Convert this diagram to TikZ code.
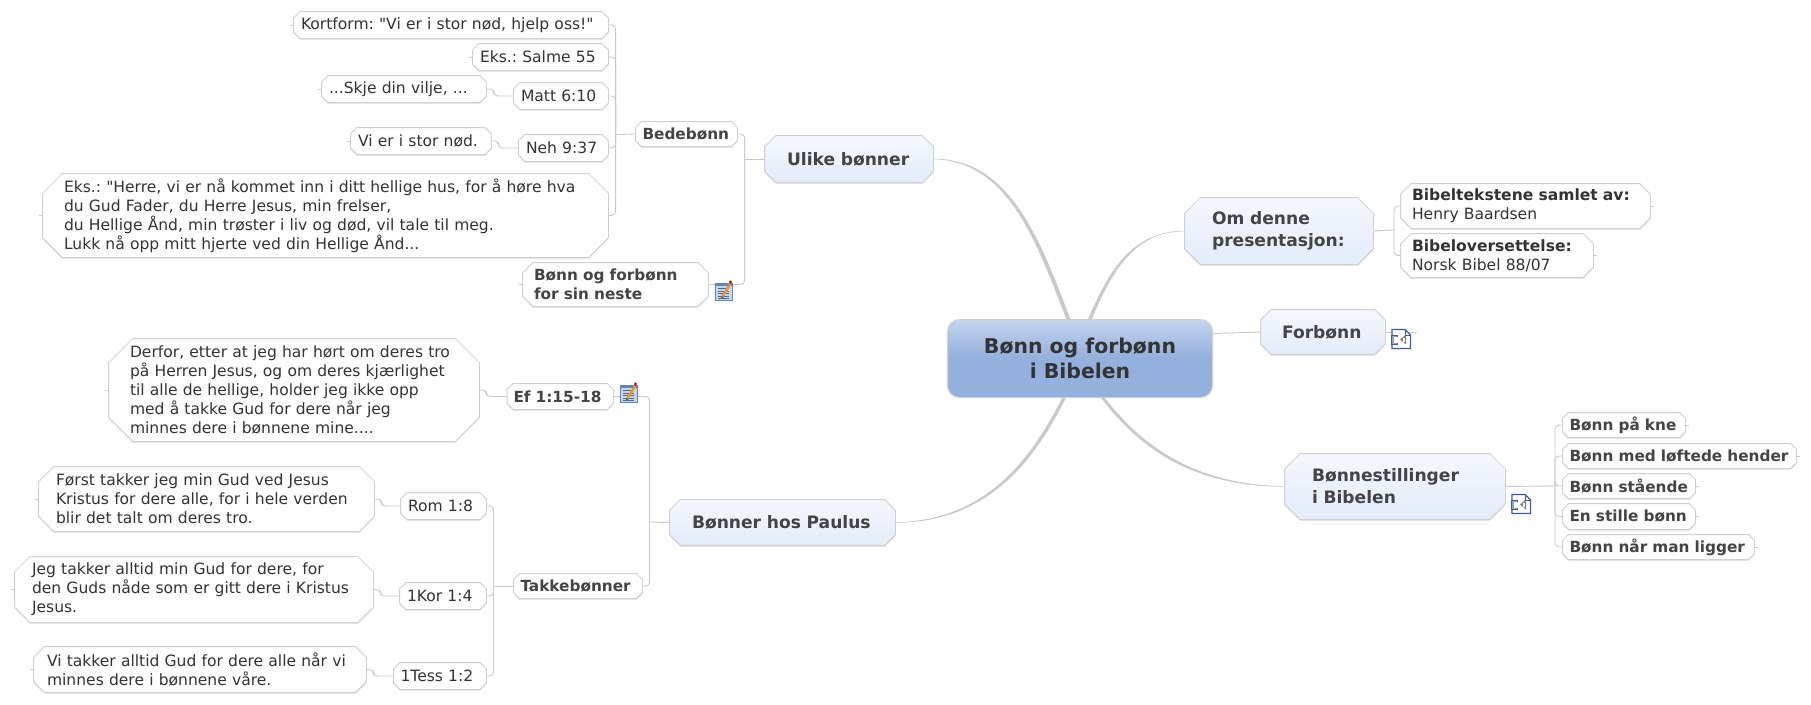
\documentclass[tikz,border=0pt]{standalone}
\usepackage{fontspec}
\setmainfont[Ligatures=TeXOff]{DejaVu Sans}
\usetikzlibrary{shadows,calc}
\makeatletter
\pgfdeclareshape{chamfbox}{
  \inheritsavedanchors[from=rectangle]
  \inheritanchorborder[from=rectangle]
  \inheritanchor[from=rectangle]{center}
  \inheritanchor[from=rectangle]{north}
  \inheritanchor[from=rectangle]{south}
  \inheritanchor[from=rectangle]{east}
  \inheritanchor[from=rectangle]{west}
  \inheritanchor[from=rectangle]{north east}
  \inheritanchor[from=rectangle]{north west}
  \inheritanchor[from=rectangle]{south east}
  \inheritanchor[from=rectangle]{south west}
  \inheritanchor[from=rectangle]{base}
  \inheritanchor[from=rectangle]{mid}
  \backgroundpath{
    \southwest \pgf@xa=\pgf@x \pgf@ya=\pgf@y
    \northeast \pgf@xb=\pgf@x \pgf@yb=\pgf@y
    \pgf@yc=\pgf@yb \advance\pgf@yc by -\pgf@ya
    \pgf@yc=0.235\pgf@yc
    \pgfpathmoveto{\pgfqpoint{\pgf@xa}{\dimexpr\pgf@ya+\pgf@yc}}
    \pgfpathlineto{\pgfqpoint{\pgf@xa}{\dimexpr\pgf@yb-\pgf@yc}}
    \pgfpathlineto{\pgfqpoint{\dimexpr\pgf@xa+\pgf@yc}{\pgf@yb}}
    \pgfpathlineto{\pgfqpoint{\dimexpr\pgf@xb-\pgf@yc}{\pgf@yb}}
    \pgfpathlineto{\pgfqpoint{\pgf@xb}{\dimexpr\pgf@yb-\pgf@yc}}
    \pgfpathlineto{\pgfqpoint{\pgf@xb}{\dimexpr\pgf@ya+\pgf@yc}}
    \pgfpathlineto{\pgfqpoint{\dimexpr\pgf@xb-\pgf@yc}{\pgf@ya}}
    \pgfpathlineto{\pgfqpoint{\dimexpr\pgf@xa+\pgf@yc}{\pgf@ya}}
    \pgfpathclose
  }
}
\makeatother
\definecolor{edge}{HTML}{C9C9C9}
\definecolor{boxline}{HTML}{CDD0D4}
\definecolor{txt}{HTML}{333333}
\definecolor{txtb}{HTML}{444444}
\definecolor{c1}{HTML}{94B1DD}
\definecolor{c2}{HTML}{96B2DD}
\definecolor{c3}{HTML}{C6D6EE}
\definecolor{e1}{HTML}{F4F7FD}
\definecolor{e2}{HTML}{E3ECFA}
\definecolor{notefill}{HTML}{C4D7F0}
\definecolor{noteline}{HTML}{5F85C4}
\definecolor{linkline}{HTML}{3F5AAB}
\definecolor{linkfill}{HTML}{8FA3CF}
\pgfdeclareverticalshading{centershade}{100bp}{%
  color(0bp)=(c1);color(50bp)=(c1);color(52bp)=(c2);color(75bp)=(c3);color(100bp)=(c3)}
\newcommand{\leaffont}{\frenchspacing\fontsize{15.55}{19}\selectfont}
\newcommand{\boldfont}{\frenchspacing\fontsize{15.3}{19}\selectfont\bfseries}
\newcommand{\mainfontx}{\frenchspacing\fontsize{17.1}{22}\selectfont\bfseries}
\newcommand{\bx}[8]{% style name x0 y0 x1 y1 pad text
  \pgfmathsetmacro{\xc}{(#3+#5)/2}\pgfmathsetmacro{\yc}{(#4+#6)/2}%
  \pgfmathsetmacro{\hb}{#6-#4}%
  \pgfmathsetmacro{\tw}{#5-#3-2*#7}%
  \node[#1, minimum height=\hb pt, text width=\tw pt, inner xsep=#7pt] (#2) at (\xc,\yc) {#8};}
\tikzset{
  x=1pt,y=-1pt,
  base/.style={shape=chamfbox, draw=boxline, line width=0.8pt, inner ysep=0pt, align=left,
     copy shadow={shadow xshift=0pt, shadow yshift=-1.2pt, draw=none, fill=black!16}},
  leaf/.style={base, fill=white, text=txt, font=\leaffont},
  bleaf/.style={base, fill=white, text=txtb, font=\boldfont},
  topic/.style={base, top color=e1, bottom color=e2, text=txtb, font=\mainfontx},
  conn/.style={draw=edge, line width=0.9pt, rounded corners=4pt},
  curve/.style={draw=edge, fill=edge, line width=0.5pt},
  stub/.style={draw=edge, line width=0.7pt},
}
% note icon
\newcommand{\noteicon}[3]{%
  \begin{scope}[shift={(#1,#2)}]
    \node[inner sep=0pt, minimum size=0pt] (#3) at (9,10) {};
    \fill[fill=notefill, draw=noteline, line width=0.9pt] (0.5,2.5) rectangle (17,19.5);
    \fill[fill=noteline] (0.5,2.5) rectangle (17,4.5);
    \foreach \yy in {7.5,10,12.5,15,17.5}{\draw[noteline!80!black, line width=0.7pt] (3,\yy) -- (14,\yy);}
    \draw[orange!85!yellow, line width=2.4pt] (7.5,15.5) -- (15,3);
    \fill[black!60] (5.8,18) -- (6.4,15) -- (8.8,16.4) -- cycle;
    \fill[red!80!black] (15.5,1) circle (1.7);
  \end{scope}}
% map link icon
\newcommand{\linkicon}[3]{%
  \begin{scope}[shift={(#1,#2)}]
    \node[inner sep=0pt, minimum size=0pt] (#3) at (10,10) {};
    \draw[fill=white, draw=linkline, line width=1.1pt] (1,0.5) -- (14,0.5) -- (19.5,6) -- (19.5,19.5) -- (1,19.5) -- cycle;
    \draw[fill=linkfill, draw=linkline, line width=0.7pt] (0.5,6) rectangle (6,15);
    \fill[white] (3,7.5) rectangle (8,13.5);
    \fill[black!50] (9,10.5) -- (15,5.5) -- (15,15.5) -- cycle;
    \fill[white] (12,8.5) rectangle (14,12.5);
    \draw[linkline, line width=0.8pt] (14,0.5) -- (14,6) -- (19.5,6);
  \end{scope}}
\begin{document}
\begin{tikzpicture}
\useasboundingbox (0,0) rectangle (1811,704);
\fill[white] (0,0) rectangle (1811,704);

% centre
\node[shape=rectangle, rounded corners=12pt, draw=boxline, line width=1pt, shading=centershade,
  minimum width=265pt, minimum height=78pt, inner sep=0pt, align=center, text=txt,
  font=\frenchspacing\fontsize{20.4}{25}\selectfont\bfseries] (root) at (1080,358.5) {Bønn og forbønn\\i Bibelen};

% main topics
\bx{topic}{ulike}{765}{136}{933}{182}{22}{Ulike bønner}
\bx{topic}{paulus}{670}{500}{895}{545}{22}{Bønner hos Paulus}
\bx{topic}{omd}{1185}{198}{1373}{264}{27}{Om denne\\presentasjon:}
\bx{topic}{forb}{1261}{310}{1385}{354}{21}{Forbønn}
\bx{topic}{still}{1285}{454}{1505}{519}{27}{Bønnestillinger\\i Bibelen}

% upper-left branch
\bx{bleaf}{bede}{636}{122}{737}{146}{6.5}{Bedebønn}
\bx{bleaf}{neste}{523}{263}{708}{306}{11}{Bønn og forbønn\\for sin neste}
\bx{leaf}{kort}{294}{12}{608}{38}{7}{Kortform: "Vi er i stor nød, hjelp oss!"}
\bx{leaf}{salme}{473}{44}{608}{70}{7}{Eks.: Salme 55}
\bx{leaf}{matt}{514}{83}{608}{109}{7}{Matt 6:10}
\bx{leaf}{skje}{322}{76}{486}{102}{7}{...Skje din vilje, ...}
\bx{leaf}{neh}{519}{135}{608}{161}{7}{Neh 9:37}
\bx{leaf}{stor}{351}{128}{491}{154}{7}{Vi er i stor nød.}
\bx{leaf}{herre}{43}{174}{608}{257}{21}{Eks.: "Herre, vi er nå kommet inn i ditt hellige hus, for å høre hva\\du Gud Fader, du Herre Jesus, min frelser,\\du Hellige Ånd, min trøster i liv og død, vil tale til meg.\\Lukk nå opp mitt hjerte ved din Hellige Ånd...}

% lower-left branch
\bx{bleaf}{ef}{507.5}{384}{613}{409}{6}{Ef 1:15-18}
\bx{leaf}{derfor}{109}{339}{479}{441}{21}{Derfor, etter at jeg har hørt om deres tro\\på Herren Jesus, og om deres kjærlighet\\til alle de hellige, holder jeg ikke opp\\med å takke Gud for dere når jeg\\minnes dere i bønnene mine....}
\bx{bleaf}{takk}{514}{574}{642}{598}{6.5}{Takkebønner}
\bx{leaf}{rom}{401}{493}{486}{519}{7}{Rom 1:8}
\bx{leaf}{forst}{39}{467}{374}{531}{17}{Først takker jeg min Gud ved Jesus\\Kristus for dere alle, for i hele verden\\blir det talt om deres tro.}
\bx{leaf}{kor}{400}{583}{486}{609}{7}{1Kor 1:4}
\bx{leaf}{jeg}{15}{557}{373}{622}{17}{Jeg takker alltid min Gud for dere, for\\den Guds nåde som er gitt dere i Kristus\\Jesus.}
\bx{leaf}{tess}{394}{663}{486}{689}{6.5}{1Tess 1:2}
\bx{leaf}{alltid}{34}{647}{366}{692}{13}{Vi takker alltid Gud for dere alle når vi\\minnes dere i bønnene våre.}

% right branches
\bx{leaf}{samlet}{1401}{184}{1650}{228}{11}{\textbf{Bibeltekstene samlet av:}\\Henry Baardsen}
\bx{leaf}{overs}{1401}{234}{1593}{277}{11}{\textbf{Bibeloversettelse:}\\Norsk Bibel 88/07}
\bx{bleaf}{kne}{1563}{413}{1685}{437}{6.5}{Bønn på kne}
\bx{bleaf}{hender}{1563}{444}{1796}{468}{6.5}{Bønn med løftede hender}
\bx{bleaf}{staa}{1563}{474}{1695}{498}{6.5}{Bønn stående}
\bx{bleaf}{stille}{1563}{504}{1695}{529}{6.5}{En stille bønn}
\bx{bleaf}{ligger}{1563}{535}{1754}{559}{6.5}{Bønn når man ligger}

% junction points
\coordinate (pBede) at (615.6,134.6);
\coordinate (pUlike) at (744.6,159);
\coordinate (pPaulus) at (649.5,522);
\coordinate (pTakk) at (493.5,586);
\coordinate (pOm) at (1394,230);
\coordinate (pStill) at (1555,486);
\coordinate (rootA) at (1068,319);
\coordinate (rootB) at (1090,319);
\coordinate (rootC) at (1064,398);
\coordinate (rootD) at (1103,398);

% tapered main curves
\draw[curve] (ulike.east) .. controls (1010,159) and (1040,240) .. ($(rootA)+(2,0)$) -- ($(rootA)+(-1.5,0)$) .. controls (1037,242) and (1008,160) .. (ulike.east);
\draw[curve] (omd.west) .. controls (1135,231) and (1112,270) .. ($(rootB)+(1.5,0)$) -- ($(rootB)+(-1.5,0)$) .. controls (1110,268) and (1133,232) .. (omd.west);
\draw[curve] (paulus.east) .. controls (985,522) and (1032,465) .. ($(rootC)+(1.5,0)$) -- ($(rootC)+(-1.5,0)$) .. controls (1029,464) and (983,521) .. (paulus.east);
\draw[curve] (still.west) .. controls (1200,486) and (1145,455) .. ($(rootD)+(-1.5,0)$) -- ($(rootD)+(1.5,0)$) .. controls (1147,453) and (1202,485) .. (still.west);
\coordinate (rootE) at (1213,333.5);
\draw[conn, line width=0.9pt] (rootE) -- (forb.west);

% branch connectors
\foreach \n in {kort,salme,matt,neh,herre} {\draw[conn] (\n.east) -| (pBede);}
\draw[conn] (pBede) -- (bede.west);
\draw[conn] (bede.east) -| (pUlike);
\draw[conn] (neste.east) -| (pUlike);
\draw[conn] (pUlike) -- (ulike.west);
\draw[conn] (skje.east) -- ++(7.5,0) |- (matt.west);
\draw[conn] (stor.east) -- ++(7,0) |- (neh.west);
\draw[conn] (derfor.east) -- ++(7,0) |- (ef.west);
\draw[conn] (forst.east) -- ++(7,0) |- (rom.west);
\draw[conn] (jeg.east) -- ++(7,0) |- (kor.west);
\draw[conn] (alltid.east) -- ++(7,0) |- (tess.west);
\foreach \n in {rom,kor,tess} {\draw[conn] (\n.east) -| (pTakk);}
\draw[conn] (pTakk) -- (takk.west);
\draw[conn] (ef.east) -| (pPaulus);
\draw[conn] (takk.east) -| (pPaulus);
\draw[conn] (pPaulus) -- (paulus.west);
\foreach \n in {samlet,overs} {\draw[conn] (\n.west) -| (pOm);}
\draw[conn] (omd.east) -- (pOm);
\foreach \n in {kne,hender,staa,stille,ligger} {\draw[conn] (\n.west) -| (pStill);}
\draw[conn] (still.east) -- (pStill);

% free-end stubs
\foreach \n in {kort,salme,skje,stor,herre,derfor,forst,jeg,alltid,neste} {\draw[stub] (\n.west) -- ++(-4,0);}
\foreach \n in {samlet,overs,kne,hender,staa,stille,ligger} {\draw[stub] (\n.east) -- ++(4,0);}
\draw[stub] (forb.east) -- ++(32,0);

% icons above the connectors
\noteicon{715}{281}{iconA}
\noteicon{620}{383}{iconB}
\linkicon{1391}{329}{iconC}
\linkicon{1511}{494}{iconD}
\end{tikzpicture}
\end{document}
